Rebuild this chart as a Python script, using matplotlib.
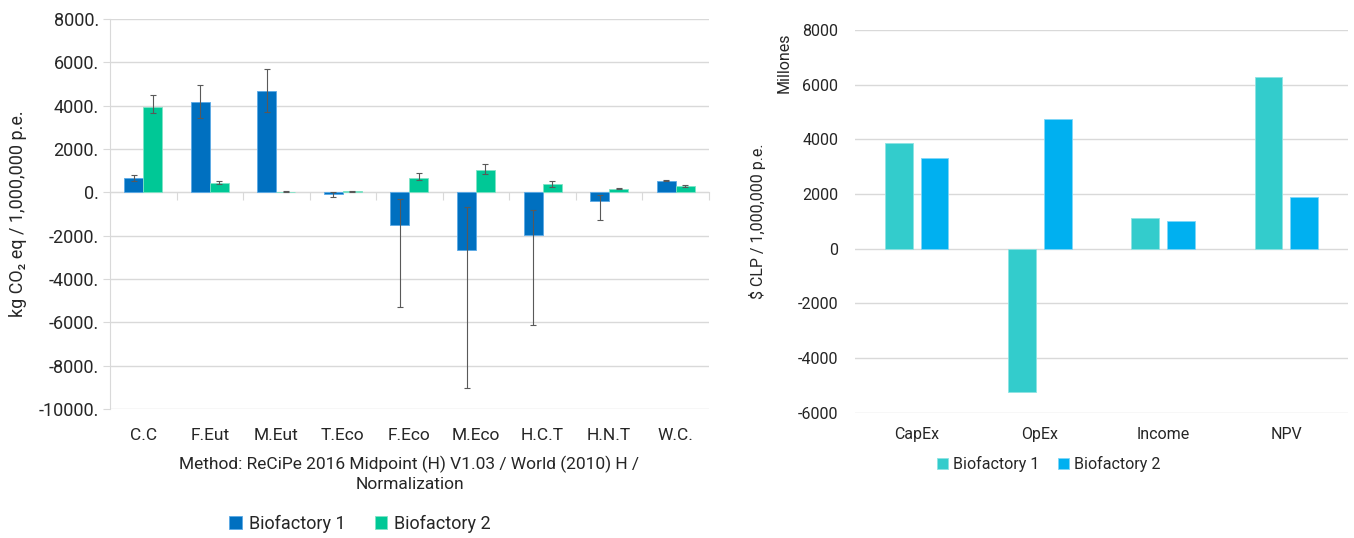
import numpy as np
import matplotlib
matplotlib.use('Agg')
import matplotlib.pyplot as plt
from matplotlib.ticker import FuncFormatter

plt.rcParams['font.family'] = ['Roboto', 'DejaVu Sans']
plt.rcParams['axes.unicode_minus'] = False

# ---- datos: impacto ambiental (ReCiPe) ----
impact_cats = ['C.C', 'F.Eut', 'M.Eut', 'T.Eco', 'F.Eco', 'M.Eco', 'H.C.T', 'H.N.T', 'W.C.']
bio1_lca = [650, 4150, 4660, -60, -1490, -2650, -1990, -395, 537]
bio1_lo = [508, 3450, 3720, -200, -5300, -9010, -6140, -1295, 505]
bio1_hi = [785, 4960, 5680, 20, -305, -680, -805, -110, 568]
bio2_lca = [3940, 448, 30, 50, 664, 1010, 363, 174, 300]
bio2_lo = [3660, 370, 15, 30, 586, 852, 268, 142, 253]
bio2_hi = [4480, 540, 45, 70, 877, 1310, 505, 220, 347]
lca_ticks = [8000, 6000, 4000, 2000, 0, -2000, -4000, -6000, -8000, -10000]

# ---- datos: evaluacion economica ----
econ_cats = ['CapEx', 'OpEx', 'Income', 'NPV']
bio1_econ = [3870, -5230, 1135, 6276]
bio2_econ = [3310, 4750, 1025, 1893]
econ_ticks = [8000, 6000, 4000, 2000, 0, -2000, -4000, -6000]

BLUE = '#0070c0'
GREEN = '#00c896'
TEAL = '#33cccc'
SKY = '#00b0f0'
GRID = '#d9d9d9'
TXT = '#262626'

fig = plt.figure(figsize=(13.54, 5.38), dpi=100)

# ================= panel izquierdo =================
ax1 = fig.add_axes([0.0812, 0.2398, 0.4424, 0.7249])
x = np.arange(len(impact_cats))
w = 0.285
v1 = np.array(bio1_lca)
v2 = np.array(bio2_lca)
err1 = [v1 - np.array(bio1_lo), np.array(bio1_hi) - v1]
err2 = [v2 - np.array(bio2_lo), np.array(bio2_hi) - v2]

ax1.bar(x - w / 2, v1, w, color=BLUE, edgecolor='#5aa9e6', linewidth=0.6,
        label='Biofactory 1', zorder=3)
ax1.bar(x + w / 2, v2, w, color=GREEN, edgecolor='#7fe3c6', linewidth=0.6,
        label='Biofactory 2', zorder=3)
ax1.errorbar(x - w / 2, v1, yerr=err1, fmt='none', ecolor='#595959',
             elinewidth=0.8, capsize=2.5, capthick=0.8, zorder=4)
ax1.errorbar(x + w / 2, v2, yerr=err2, fmt='none', ecolor='#595959',
             elinewidth=0.8, capsize=2.5, capthick=0.8, zorder=4)

ax1.set_xlim(-0.5, len(impact_cats) - 0.5)
ax1.set_ylim(-10000, 8000)
ax1.set_yticks(lca_ticks)
ax1.yaxis.set_major_formatter(FuncFormatter(lambda v, p: f'{v:.0f}.'))
ax1.grid(axis='y', color=GRID, linewidth=1, zorder=0)
for s in ['top', 'right']:
    ax1.spines[s].set_visible(False)
ax1.spines['left'].set_color(GRID)
ax1.spines['bottom'].set_position(('data', 0))
ax1.spines['bottom'].set_color(GRID)
ax1.tick_params(axis='y', length=5, color=GRID, labelsize=13, labelcolor=TXT, pad=3)
# marcas del eje en y=0, entre categorias
ax1.set_xticks(np.arange(len(impact_cats) + 1) - 0.5)
ax1.tick_params(axis='x', length=6, color=GRID, labelbottom=False)
# etiquetas de categoria abajo
sec = ax1.secondary_xaxis('bottom')
sec.set_xticks(x)
sec.set_xticklabels(impact_cats)
sec.tick_params(length=0, labelsize=12.5, labelcolor=TXT, pad=14)
sec.spines['bottom'].set_visible(False)
sec.set_xlabel('Method: ReCiPe 2016 Midpoint (H) V1.03 / World (2010) H /\nNormalization',
               fontsize=12.5, color=TXT, labelpad=9, linespacing=1.3)
ax1.set_ylabel('kg CO₂ eq / 1,000,000 p.e.', fontsize=13, color=TXT)
ax1.yaxis.set_label_coords(-0.138, 0.5)

fig.legend(*ax1.get_legend_handles_labels(), loc='center', bbox_to_anchor=(0.266, 0.026),
           ncol=2, frameon=False, fontsize=13, handlelength=0.7, handleheight=0.7,
           handletextpad=0.4, columnspacing=1.6, labelcolor=TXT)

# ================= panel derecho =================
ax2 = fig.add_axes([0.6315, 0.2329, 0.3641, 0.7113])
xe = np.arange(len(econ_cats))
we = 0.225
off = 0.145
ax2.bar(xe - off, bio1_econ, we, color=TEAL, edgecolor='#8ee3e3', linewidth=0.6,
        label='Biofactory 1', zorder=3)
ax2.bar(xe + off, bio2_econ, we, color=SKY, edgecolor='#7fd6f7', linewidth=0.6,
        label='Biofactory 2', zorder=3)
ax2.set_xlim(-0.5, len(econ_cats) - 0.5)
ax2.set_ylim(-6000, 8000)
ax2.set_yticks(econ_ticks)
ax2.set_xticks(xe)
ax2.set_xticklabels(econ_cats)
ax2.grid(axis='y', color=GRID, linewidth=1, zorder=0)
for s in ax2.spines.values():
    s.set_visible(False)
ax2.tick_params(axis='both', length=0, labelsize=11.5, labelcolor=TXT)
ax2.tick_params(axis='y', pad=12)
ax2.tick_params(axis='x', pad=10)
ax2.set_ylabel('$ CLP / 1,000,000 p.e.', fontsize=11.5, color=TXT)
ax2.yaxis.set_label_coords(-0.18, 0.5)
ax2.text(-0.144, 0.914, 'Millones', transform=ax2.transAxes, rotation=90,
         ha='center', va='center', fontsize=11.5, color=TXT)

ax2.legend(loc='center', bbox_to_anchor=(0.393, -0.135), ncol=2, frameon=False,
           fontsize=11.5, handlelength=0.7, handleheight=0.7, handletextpad=0.3,
           columnspacing=1.2, labelcolor=TXT)

fig.savefig('out.png', dpi=100)
